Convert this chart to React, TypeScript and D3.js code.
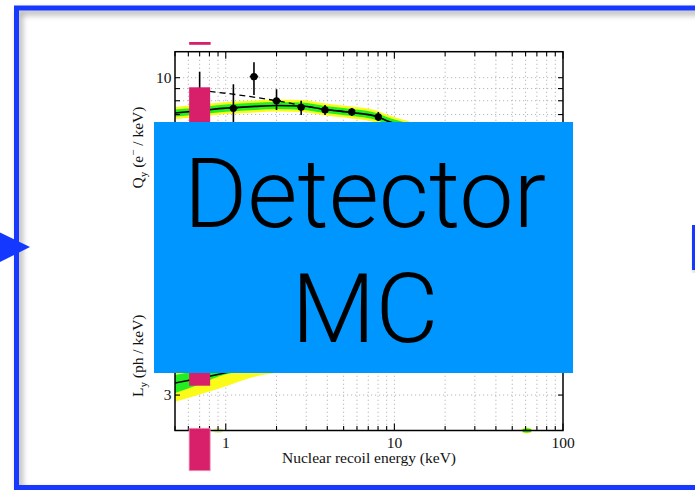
import React from 'react';
import * as d3 from 'd3';

// ---------- data ----------
const xDomain = [0.5, 100];
const qyDomain = [2.06, 12.86];
const lyDomain = [2.13, 13.3];
const xTickLabels = [1, 10, 100];
const yTickLabels = [3, 10];

// measured Qy points
const qyEnergy = [0.7, 1.11, 1.47, 2.0, 2.8, 3.88, 5.59, 8.03];
const qyValue = [8.22, 7.44, 10.1, 8.0, 7.51, 7.32, 7.18, 6.84];
const qyErrLo = [5.9, 5.6, 8.46, 7.32, 6.97, 6.97, 6.9, 6.58];
const qyErrHi = [10.6, 9.38, 11.6, 8.94, 8.0, 7.68, 7.46, 7.18];
const qyXErrFactor = [1.06, 1.06, 1.06, 1.06, 1.05, 1.05, 1.04, 1.04];

// Qy model and bands
const qyModelEnergy = [0.5, 0.7, 1.0, 1.5, 2.0, 2.8, 3.9, 5.6, 8.0, 9.0, 12, 20, 50, 100];
const qyModel = [7.11, 7.27, 7.45, 7.58, 7.64, 7.6, 7.35, 7.14, 6.84, 6.6, 6.2, 5.4, 4.3, 3.6];
const qyGreenHi = [7.36, 7.52, 7.71, 7.85, 7.91, 7.87, 7.61, 7.39, 7.08, 6.83, 6.42, 5.59, 4.45, 3.73];
const qyGreenLo = [6.87, 7.02, 7.2, 7.32, 7.38, 7.34, 7.1, 6.9, 6.61, 6.38, 5.99, 5.22, 4.15, 3.48];
const qyYellowHi = [7.54, 7.71, 7.9, 8.03, 8.1, 8.06, 7.79, 7.57, 7.25, 7.0, 6.57, 5.72, 4.56, 3.82];
const qyYellowLo = [6.71, 6.86, 7.03, 7.15, 7.21, 7.17, 6.93, 6.74, 6.45, 6.23, 5.85, 5.09, 4.06, 3.4];

// dashed comparison curve
const dashEnergy = [0.7, 1.2, 2.0, 2.75, 3.8, 5.6];
const dashQy = [8.85, 8.46, 8.0, 7.68, 7.38, 7.14];

// Ly model and bands
const lyEnergy = [0.5, 0.7, 1.0, 1.5, 2, 3, 5, 10, 20, 50, 100];
const lyModel = [3.37, 3.53, 3.72, 3.94, 4.1, 4.34, 4.67, 5.3, 5.9, 6.6, 7.0];
const lyGreenLo = [3.06, 3.33, 3.67, 3.8, 3.95, 4.15, 4.45, 5.0, 5.6, 6.3, 6.7];
const lyGreenHi = [3.64, 3.8, 3.98, 4.2, 4.36, 4.6, 4.95, 5.6, 6.2, 6.9, 7.3];
const lyYellowLo = [2.81, 3.02, 3.27, 3.59, 3.72, 3.95, 4.25, 4.8, 5.3, 5.9, 6.3];
const lyYellowHi = [4.05, 4.2, 4.4, 4.6, 4.75, 5.0, 5.4, 6.0, 6.6, 7.3, 7.8];

// small marks at the bottom edge
const edgeEnergy = [0.9, 61];
const edgeColor = ['#e9f2a6', '#22e022'];

// highlighted energy (pink annotation)
const highlightEnergy = 0.7;

const boxLines = ['Detector', 'MC'];

// ---------- layout ----------
const W = 695;
const H = 490;
const P = { left: 175, right: 563, top: 51.7, bottom: 430.5, split: 241 };
const serif = '"Liberation Serif", "Times New Roman", serif';
const YELLOW = '#fbfb1a';
const GREEN = '#22ee22';
const PINK = '#d81f6a';
const FRAME = '#1438ff';

export default function App() {
  const x = d3.scaleLog().domain(xDomain).range([P.left, P.right]);
  const yUp = d3.scaleLog().domain(qyDomain).range([P.split, P.top]);
  const yLo = d3.scaleLog().domain(lyDomain).range([P.bottom, P.split]);

  const xTicks = x.ticks().filter((t) => t > xDomain[0] && t < xDomain[1]);
  const xTicksAll = x.ticks();
  const upTicks = yUp.ticks();
  const loTicks = yLo.ticks();

  const band = (E: number[], lo: number[], hi: number[], y: any) =>
    d3
      .area<number>()
      .x((i) => x(E[i]))
      .y0((i) => y(lo[i]))
      .y1((i) => y(hi[i]))
      .curve(d3.curveMonotoneX)(d3.range(E.length)) || '';
  const line = (E: number[], v: number[], y: any) =>
    d3
      .line<number>()
      .x((i) => x(E[i]))
      .y((i) => y(v[i]))
      .curve(d3.curveMonotoneX)(d3.range(E.length)) || '';

  const px = x(highlightEnergy);

  return (
    <svg
      width={W}
      height={H}
      viewBox={`0 0 ${W} ${H}`}
      style={{ position: 'absolute', left: 0, top: 0, background: '#fff' }}
    >
      <defs>
        <clipPath id="clipUp">
          <rect x={P.left} y={P.top} width={P.right - P.left} height={P.split - P.top} />
        </clipPath>
        <clipPath id="clipLo">
          <rect x={P.left} y={P.split} width={P.right - P.left} height={P.bottom - P.split} />
        </clipPath>
        <filter id="shadow" x="-5%" y="-5%" width="110%" height="110%">
          <feDropShadow dx="3" dy="4" stdDeviation="3" floodColor="#000" floodOpacity="0.35" />
        </filter>
      </defs>

      {/* grid */}
      <g stroke="#b5b5b5" strokeWidth={1} strokeDasharray="1.2,2.8">
        {xTicks.map((t) => (
          <line key={'gx' + t} x1={x(t)} x2={x(t)} y1={P.top} y2={P.bottom} />
        ))}
        {upTicks.map((t) => (
          <line key={'gu' + t} x1={P.left} x2={P.right} y1={yUp(t)} y2={yUp(t)} />
        ))}
        {loTicks.map((t) => (
          <line key={'gl' + t} x1={P.left} x2={P.right} y1={yLo(t)} y2={yLo(t)} />
        ))}
      </g>

      {/* upper panel: Qy */}
      <g clipPath="url(#clipUp)">
        <path d={band(qyModelEnergy, qyYellowLo, qyYellowHi, yUp)} fill={YELLOW} />
        <path d={band(qyModelEnergy, qyGreenLo, qyGreenHi, yUp)} fill={GREEN} />
        <path d={line(qyModelEnergy, qyModel, yUp)} fill="none" stroke="#000" strokeWidth={1.6} />
        <path
          d={line(dashEnergy, dashQy, yUp)}
          fill="none"
          stroke="#000"
          strokeWidth={1.3}
          strokeDasharray="6,4"
        />
        <g stroke="#000" strokeWidth={1.6}>
          {qyEnergy.map((e, i) => (
            <g key={'p' + i}>
              <line x1={x(e)} x2={x(e)} y1={yUp(qyErrLo[i])} y2={yUp(qyErrHi[i])} />
              <line
                x1={x(e / qyXErrFactor[i])}
                x2={x(e * qyXErrFactor[i])}
                y1={yUp(qyValue[i])}
                y2={yUp(qyValue[i])}
              />
              <circle cx={x(e)} cy={yUp(qyValue[i])} r={3.6} fill="#000" stroke="none" />
            </g>
          ))}
        </g>
      </g>

      {/* lower panel: Ly */}
      <g clipPath="url(#clipLo)">
        <path d={band(lyEnergy, lyYellowLo, lyYellowHi, yLo)} fill={YELLOW} />
        <path d={band(lyEnergy, lyGreenLo, lyGreenHi, yLo)} fill={GREEN} />
        <path d={line(lyEnergy, lyModel, yLo)} fill="none" stroke="#000" strokeWidth={1.6} />
      </g>
      {edgeEnergy.map((e, i) => (
        <ellipse
          key={'em' + i}
          cx={x(e)}
          cy={P.bottom}
          rx={5}
          ry={2.5}
          fill={edgeColor[i]}
          stroke={i === 1 ? YELLOW : 'none'}
          strokeWidth={0.8}
        />
      ))}

      {/* axes frame */}
      <rect
        x={P.left}
        y={P.top}
        width={P.right - P.left}
        height={P.bottom - P.top}
        fill="none"
        stroke="#000"
        strokeWidth={1.5}
      />
      <line x1={P.left} x2={P.right} y1={P.split} y2={P.split} stroke="#000" strokeWidth={1.5} />

      {/* ticks */}
      <g stroke="#000" strokeWidth={1.1}>
        {xTicksAll.map((t) => {
          const major = xTickLabels.includes(t);
          const len = major ? 7 : 4.5;
          return (
            <g key={'tx' + t}>
              <line x1={x(t)} x2={x(t)} y1={P.bottom} y2={P.bottom - len} />
              <line x1={x(t)} x2={x(t)} y1={P.top} y2={P.top + len} />
            </g>
          );
        })}
        {upTicks.map((t) => (
          <g key={'tu' + t}>
            <line x1={P.left} x2={P.left + 5} y1={yUp(t)} y2={yUp(t)} />
            <line x1={P.right} x2={P.right - 5} y1={yUp(t)} y2={yUp(t)} />
          </g>
        ))}
        {loTicks.map((t) => (
          <g key={'tl' + t}>
            <line x1={P.left} x2={P.left + 5} y1={yLo(t)} y2={yLo(t)} />
            <line x1={P.right} x2={P.right - 5} y1={yLo(t)} y2={yLo(t)} />
          </g>
        ))}
      </g>

      {/* tick labels */}
      <g fontFamily={serif} fontSize={15.5} fill="#111">
        {xTickLabels.map((t) => (
          <text key={'lx' + t} x={x(t)} y={447.5} textAnchor="middle">
            {t}
          </text>
        ))}
        {yTickLabels.map((t) => (
          <text key={'lu' + t} x={171.5} y={yUp(t)} dy="0.33em" textAnchor="end">
            {t}
          </text>
        ))}
        {yTickLabels.map((t) => (
          <text key={'ll' + t} x={171.5} y={yLo(t)} dy="0.33em" textAnchor="end">
            {t}
          </text>
        ))}
        <text x={(P.left + P.right) / 2} y={463} textAnchor="middle">
          Nuclear recoil energy (keV)
        </text>
        <text transform="translate(143.3,147.5) rotate(-90)" textAnchor="middle">
          <tspan>Q</tspan>
          <tspan dy="4" fontSize={11}>y</tspan>
          <tspan dy="-4"> (e</tspan>
          <tspan dy="-6" fontSize={11}>−</tspan>
          <tspan dy="6"> / keV)</tspan>
        </text>
        <text transform="translate(143.3,355.8) rotate(-90)" textAnchor="middle">
          <tspan>L</tspan>
          <tspan dy="4" fontSize={11}>y</tspan>
          <tspan dy="-4"> (ph / keV)</tspan>
        </text>
      </g>

      {/* pink annotation at the lowest energy */}
      <g fill={PINK}>
        <rect x={px - 10.5} y={42} width={21.5} height={2.8} />
        <rect x={px - 10.5} y={87.3} width={21} height={298.4} />
        <rect
          x={px - 10.5}
          y={428.3}
          width={21}
          height={42.4}
          stroke="#ef8fb4"
          strokeWidth={0.8}
        />
      </g>

      {/* overlay box */}
      <rect x={154} y={122} width={419} height={251} fill="#0096ff" />
      <g fontFamily='Roboto, "Open Sans", Lato, sans-serif' fontWeight={300} fontSize={97} fill="#000">
        {boxLines.map((s, i) => (
          <text key={s} x={365} y={227 + i * 115} textAnchor="middle">
            {s}
          </text>
        ))}
      </g>

      {/* slide frame and arrows */}
      <rect
        x={16.5}
        y={8}
        width={800}
        height={479.5}
        fill="none"
        stroke={FRAME}
        strokeWidth={5}
        filter="url(#shadow)"
      />
      <polygon points="0,232.5 30,247 0,262" fill={FRAME} />
      <rect x={692} y={225} width={12} height={45} fill={FRAME} filter="url(#shadow)" />
    </svg>
  );
}
